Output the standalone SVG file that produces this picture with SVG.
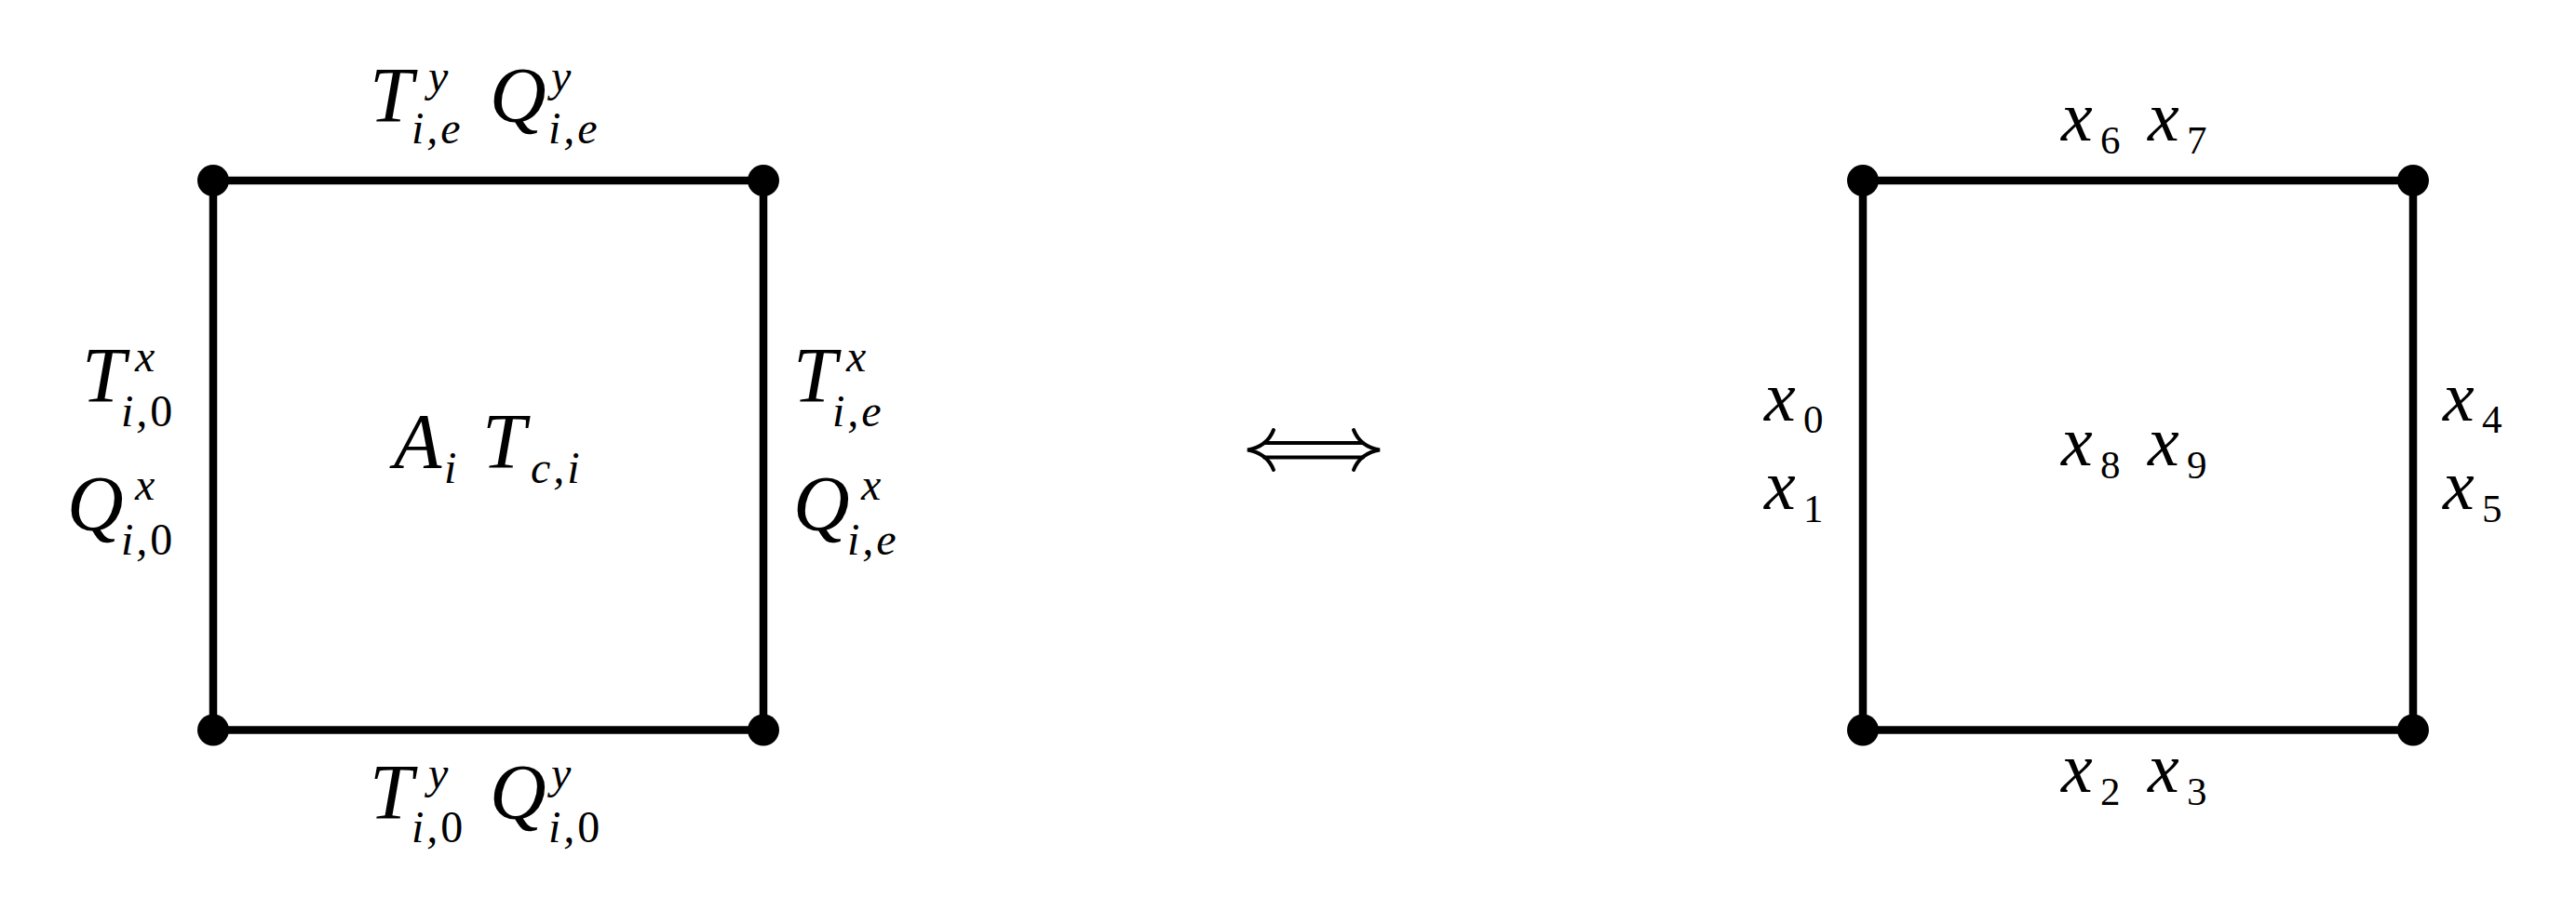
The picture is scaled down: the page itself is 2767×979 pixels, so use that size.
<svg xmlns="http://www.w3.org/2000/svg" width="2767" height="979" viewBox="0 0 2767 979">
<style>
.bg{fill:#ffffff}
.edge{stroke:#000;stroke-width:8.5;stroke-linecap:butt;fill:none}
.dot{fill:#000}
.arr{stroke:#000;stroke-width:4;fill:none;stroke-linecap:round}
.m{font-family:"Liberation Serif","Times New Roman",serif;font-style:italic;font-size:84px;fill:#000}
.s{font-size:48px}
.ls{letter-spacing:3px}
.u{font-style:normal}
.mx{font-family:"Liberation Serif","Times New Roman",serif;font-style:italic;font-size:76px;fill:#000}
.d{font-style:normal;font-size:43px}
</style>
<rect class="bg" x="0" y="0" width="2767" height="979"/>
<g id="connectors">
  <line class="edge" x1="229" y1="194" x2="820" y2="194"/>
  <line class="edge" x1="229" y1="784.5" x2="820" y2="784.5"/>
  <line class="edge" x1="229" y1="194" x2="229" y2="784.5"/>
  <line class="edge" x1="820" y1="194" x2="820" y2="784.5"/>
  <line class="edge" x1="2001" y1="194" x2="2592" y2="194"/>
  <line class="edge" x1="2001" y1="784.5" x2="2592" y2="784.5"/>
  <line class="edge" x1="2001" y1="194" x2="2001" y2="784.5"/>
  <line class="edge" x1="2592" y1="194" x2="2592" y2="784.5"/>
  <g id="equiv-arrow">
    <line class="arr" x1="1358" y1="476" x2="1464" y2="476"/>
    <line class="arr" x1="1358" y1="491.5" x2="1464" y2="491.5"/>
    <path class="arr" d="M1368,462 Q1361,480 1340,483.5 Q1361,487 1368,505"/>
    <path class="arr" d="M1454,462 Q1461,480 1482,483.5 Q1461,487 1454,505"/>
  </g>
</g>
<g id="node-left-tl"><circle class="dot" cx="229" cy="194" r="17"/></g>
<g id="node-left-tr"><circle class="dot" cx="820" cy="194" r="17"/></g>
<g id="node-left-bl"><circle class="dot" cx="229" cy="784.5" r="17"/></g>
<g id="node-left-br"><circle class="dot" cx="820" cy="784.5" r="17"/></g>
<g id="node-right-tl"><circle class="dot" cx="2001" cy="194" r="17"/></g>
<g id="node-right-tr"><circle class="dot" cx="2592" cy="194" r="17"/></g>
<g id="node-right-bl"><circle class="dot" cx="2001" cy="784.5" r="17"/></g>
<g id="node-right-br"><circle class="dot" cx="2592" cy="784.5" r="17"/></g>
<g id="labels-left">
  <text class="m"><tspan x="397" y="131">T</tspan><tspan class="s" x="460" y="98">y</tspan><tspan class="s ls" x="442" y="154">i,e</tspan><tspan x="526" y="131">Q</tspan><tspan class="s" x="592" y="98">y</tspan><tspan class="s ls" x="589" y="154">i,e</tspan></text>
  <text class="m"><tspan x="397" y="880">T</tspan><tspan class="s" x="460" y="847">y</tspan><tspan class="s ls" x="442" y="905">i,</tspan><tspan class="s u">0</tspan><tspan x="526" y="880">Q</tspan><tspan class="s" x="592" y="847">y</tspan><tspan class="s ls" x="589" y="905">i,</tspan><tspan class="s u">0</tspan></text>
  <text class="m"><tspan x="88" y="432">T</tspan><tspan class="s" x="145" y="399">x</tspan><tspan class="s ls" x="130" y="458">i,</tspan><tspan class="s u">0</tspan></text>
  <text class="m"><tspan x="72" y="570">Q</tspan><tspan class="s" x="145" y="537">x</tspan><tspan class="s ls" x="130" y="596">i,</tspan><tspan class="s u">0</tspan></text>
  <text class="m"><tspan x="852" y="432">T</tspan><tspan class="s" x="909" y="399">x</tspan><tspan class="s ls" x="894" y="458">i,e</tspan></text>
  <text class="m"><tspan x="852" y="570">Q</tspan><tspan class="s" x="925" y="537">x</tspan><tspan class="s ls" x="910" y="596">i,e</tspan></text>
  <text class="m"><tspan x="423" y="503">A</tspan><tspan class="s" x="477" y="519">i</tspan><tspan x="518" y="503">T</tspan><tspan class="s ls" x="570" y="519">c,i</tspan></text>
</g>
<g id="labels-right">
  <text class="mx"><tspan x="2214" y="151">x</tspan><tspan class="d" x="2256" y="165">6</tspan><tspan x="2307" y="151">x</tspan><tspan class="d" x="2349" y="165">7</tspan></text>
  <text class="mx"><tspan x="2214" y="500">x</tspan><tspan class="d" x="2256" y="514">8</tspan><tspan x="2307" y="500">x</tspan><tspan class="d" x="2349" y="514">9</tspan></text>
  <text class="mx"><tspan x="2214" y="851">x</tspan><tspan class="d" x="2256" y="865">2</tspan><tspan x="2307" y="851">x</tspan><tspan class="d" x="2349" y="865">3</tspan></text>
  <text class="mx"><tspan x="1895" y="452">x</tspan><tspan class="d" x="1937" y="465">0</tspan></text>
  <text class="mx"><tspan x="1895" y="547">x</tspan><tspan class="d" x="1937" y="561">1</tspan></text>
  <text class="mx"><tspan x="2624" y="452">x</tspan><tspan class="d" x="2666" y="465">4</tspan></text>
  <text class="mx"><tspan x="2624" y="547">x</tspan><tspan class="d" x="2666" y="561">5</tspan></text>
</g>
</svg>
